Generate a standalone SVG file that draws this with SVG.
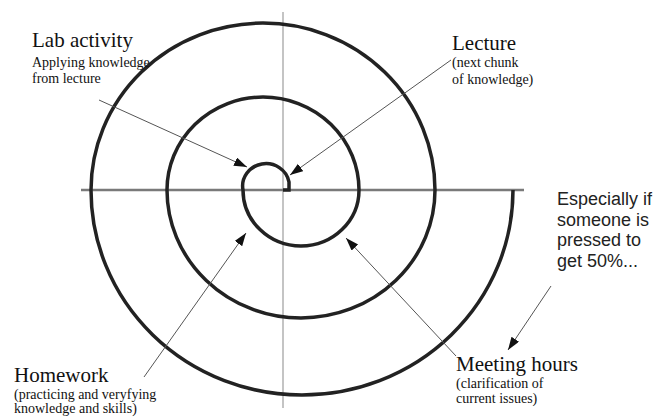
<svg xmlns="http://www.w3.org/2000/svg" width="662" height="420" viewBox="0 0 662 420">
<style>
.t{font-family:'Liberation Serif','Times New Roman','DejaVu Serif',serif;fill:#111}
.big{font-size:21px}
.sm{font-size:14px}
.sans{font-family:'Liberation Sans',Arial,sans-serif;font-size:18px;fill:#222}
.arr{stroke:#555;stroke-width:1;fill:none;marker-end:url(#ah)}
</style>
<defs>
<marker id="ah" markerUnits="userSpaceOnUse" markerWidth="14" markerHeight="10" refX="13" refY="4.5" orient="auto">
<path d="M0,0 L13,4.5 L0,9 z" fill="#111"/>
</marker>
</defs>
<rect width="662" height="420" fill="#fff"/>
<g id="axes">
<line x1="283" y1="12" x2="283" y2="408" stroke="#c4c4c4" stroke-width="2"/>
<line x1="81" y1="190" x2="524" y2="190" stroke="#7a7a7a" stroke-width="2.5"/>
</g>
<g id="spiral">
<path d="M283 190 L289 190 L289 182 A23 22 0 0 0 243 190 A58 56 0 0 0 359 190 A96 93 0 0 0 167 190 A134 128 0 0 0 435 190 A172 167 0 0 0 91 190 A211 205 0 0 0 513 190" fill="none" stroke="#222" stroke-width="3.5"/>
</g>
<g id="connectors">
<line class="arr" x1="99" y1="100" x2="247" y2="167"/>
<line class="arr" x1="451" y1="60" x2="290" y2="175"/>
<line class="arr" x1="144" y1="377" x2="246" y2="233"/>
<line class="arr" x1="456" y1="356" x2="346" y2="238"/>
<line class="arr" x1="551" y1="286" x2="508" y2="350"/>
</g>
<g id="lab" font-family="Liberation Serif, serif">
<text class="t big" x="32" y="47">Lab activity</text>
<text class="t sm" x="32" y="67">Applying knowledge</text>
<text class="t sm" x="32" y="83">from lecture</text>
</g>
<g id="lecture" font-family="Liberation Serif, serif">
<text class="t big" x="452" y="50">Lecture</text>
<text class="t sm" x="452" y="67">(next chunk</text>
<text class="t sm" x="452" y="84">of knowledge)</text>
</g>
<g id="note">
<text class="sans" x="557" y="205">Especially if</text>
<text class="sans" x="557" y="226">someone is</text>
<text class="sans" x="557" y="246">pressed to</text>
<text class="sans" x="557" y="267">get 50%...</text>
</g>
<g id="homework" font-family="Liberation Serif, serif">
<text class="t big" x="14" y="382">Homework</text>
<text class="t sm" x="14" y="399">(practicing and veryfying</text>
<text class="t sm" x="14" y="413">knowledge and skills)</text>
</g>
<g id="meeting" font-family="Liberation Serif, serif">
<text class="t big" x="456" y="371">Meeting hours</text>
<text class="t sm" x="456" y="388">(clarification of</text>
<text class="t sm" x="456" y="403">current  issues)</text>
</g>
</svg>
